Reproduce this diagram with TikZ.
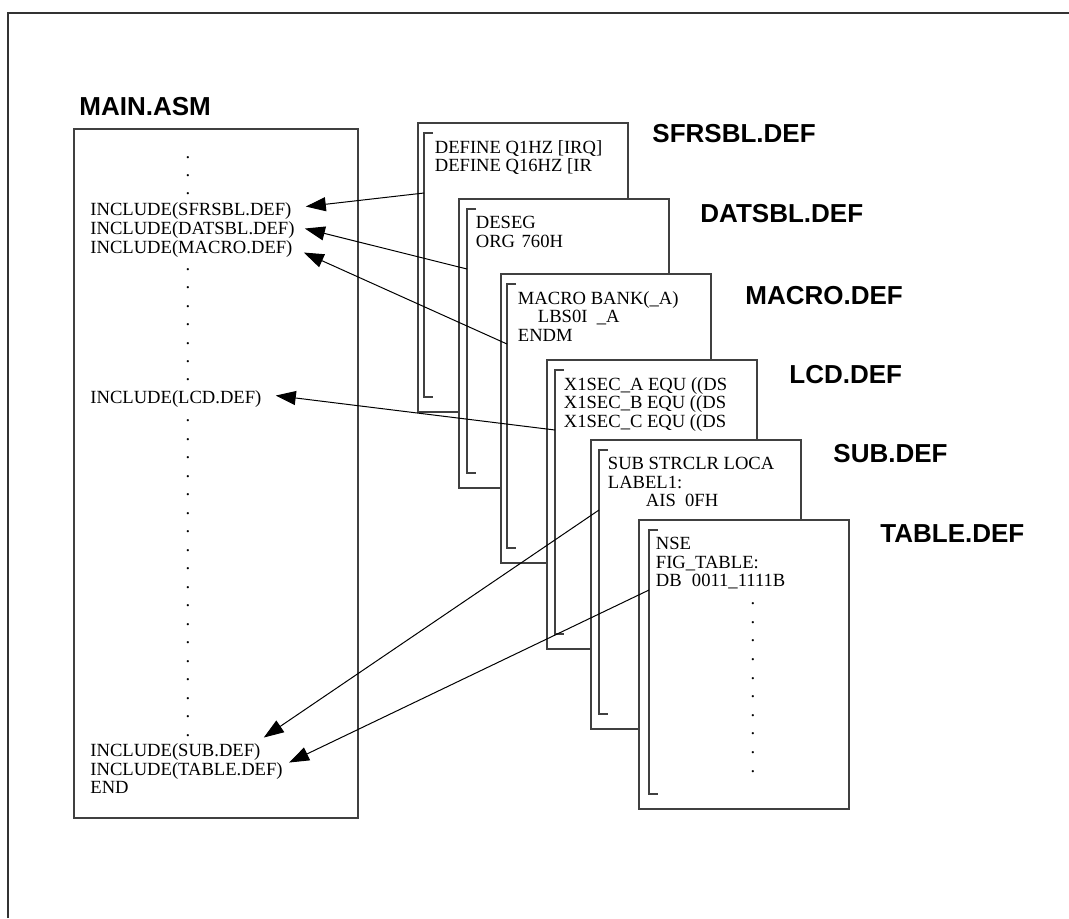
\documentclass[tikz,border=0pt]{standalone}
\usepackage{fontspec}
\setmainfont{Liberation Serif}
\newfontfamily\headfont{Liberation Sans}
\usetikzlibrary{arrows.meta}

\begin{document}
\begin{tikzpicture}[
    x=0.5pt, y=-0.5pt,
    frame/.style={
        draw=black!80,
        line width=1pt
    },
    filebox/.style={
        draw=black!75,
        line width=0.6pt,
        fill=white
    },
    bracket/.style={
        draw=black!75,
        line width=0.6pt
    },
    code/.style={
        font=\fontsize{9.3}{9.25}\selectfont,
        inner sep=0pt,
        align=left
    },
    dot/.style={
        font=\fontsize{9.3}{9.25}\selectfont,
        inner sep=0pt,
        anchor=base
    },
    title/.style={
        font=\headfont\bfseries\fontsize{13}{13}\selectfont,
        inner sep=0pt,
        anchor=base west
    },
    arrow/.style={
        -{Triangle[length=10pt, width=7pt]},
        line width=0.5pt
    }
]

\useasboundingbox (0,0) rectangle (1069,918);
\draw[frame] (8,918) -- (8,13) -- (1069,13);

% main source file
\node[title] (maintitle) at (79,115) {MAIN.ASM};
\draw[filebox] (74,129) rectangle (358,818);

\foreach \k in {0,...,2}
    \node[dot] (dota\k) at (188,158+18.3*\k) {.};
\foreach \k in {0,...,6}
    \node[dot] (dotb\k) at (188,270.5+18.4*\k) {.};
\foreach \k in {0,...,17}
    \node[dot] (dotc\k) at (188,421.8+18.5*\k) {.};

\node[code, anchor=base west] (isfr) at (90,215) {INCLUDE(SFRSBL.DEF)};
\node[code, anchor=base west] (idat) at (90,234) {INCLUDE(DATSBL.DEF)};
\node[code, anchor=base west] (imac) at (90,253) {INCLUDE(MACRO.DEF)};
\node[code, anchor=base west] (ilcd) at (90,403) {INCLUDE(LCD.DEF)};
\node[code, anchor=base west] (isub) at (90,756) {INCLUDE(SUB.DEF)};
\node[code, anchor=base west] (itab) at (90,775) {INCLUDE(TABLE.DEF)};
\node[code, anchor=base west] (iend) at (90,793.5) {END};

% stacked definition files
\foreach \n/\x/\y/\b in {sfr/418/123/6, dat/459/199/8, mac/501/274/6,
                         lcd/547/360/8, sub/591/440/8, tab/639/520/10} {
    \draw[filebox] (\x,\y) rectangle ++(210,289);
    \draw[bracket] (\x+\b+9,\y+10) -- (\x+\b,\y+10)
        -- (\x+\b,\y+274) -- (\x+\b+9,\y+274);
    \coordinate (\n-out) at (\x+\b,\y+70);
    \coordinate (\n-txt) at (\x+16.5,\y+17);
}

\node[code, anchor=north west] (sfrtext) at (sfr-txt)
    {DEFINE Q1HZ [IRQ]\\DEFINE Q16HZ [IR};
\node[code, anchor=north west] (dattext) at (dat-txt)
    {DESEG\\ORG\hspace{0.35em}760H};
\node[code, anchor=north west] (mactext) at (mac-txt)
    {MACRO BANK(\_A)\\\hspace*{10pt}LBS0I\hspace{0.5em}\_A\\ENDM};
\node[code, anchor=north west] (lcdtext) at (lcd-txt)
    {X1SEC\_A EQU ((DS\\X1SEC\_B EQU ((DS\\X1SEC\_C EQU ((DS};
\node[code, anchor=north west] (subtext) at (sub-txt)
    {SUB STRCLR LOCA\\LABEL1:\\\hspace*{19pt}AIS\hspace{0.5em}0FH};
\node[code, anchor=north west] (tabtext) at (tab-txt)
    {NSE\\FIG\_TABLE:\\DB\hspace{0.55em}0011\_1111B};

\foreach \k in {0,...,9}
    \node[dot] (dott\k) at (753,604.6+18.6*\k) {.};

\node[title] (sfrlabel) at (652,142) {SFRSBL.DEF};
\node[title] (datlabel) at (700,222) {DATSBL.DEF};
\node[title] (maclabel) at (745,304) {MACRO.DEF};
\node[title] (lcdlabel) at (789,383) {LCD.DEF};
\node[title] (sublabel) at (833,462) {SUB.DEF};
\node[title] (tablabel) at (880,542) {TABLE.DEF};

% include links
\draw[arrow] (sfr-out) -- ([shift={(14,-4)}]isfr.east);
\draw[arrow] (dat-out) -- ([shift={(10,-1)}]idat.east);
\draw[arrow] (mac-out) -- ([shift={(11,4)}]imac.east);
\draw[arrow] (lcd-out) -- ([shift={(14,-3)}]ilcd.east);
\draw[arrow] (sub-out) -- ([shift={(3,-14)}]isub.east);
\draw[arrow] (tab-out) -- ([shift={(6,-8)}]itab.east);

\end{tikzpicture}
\end{document}
